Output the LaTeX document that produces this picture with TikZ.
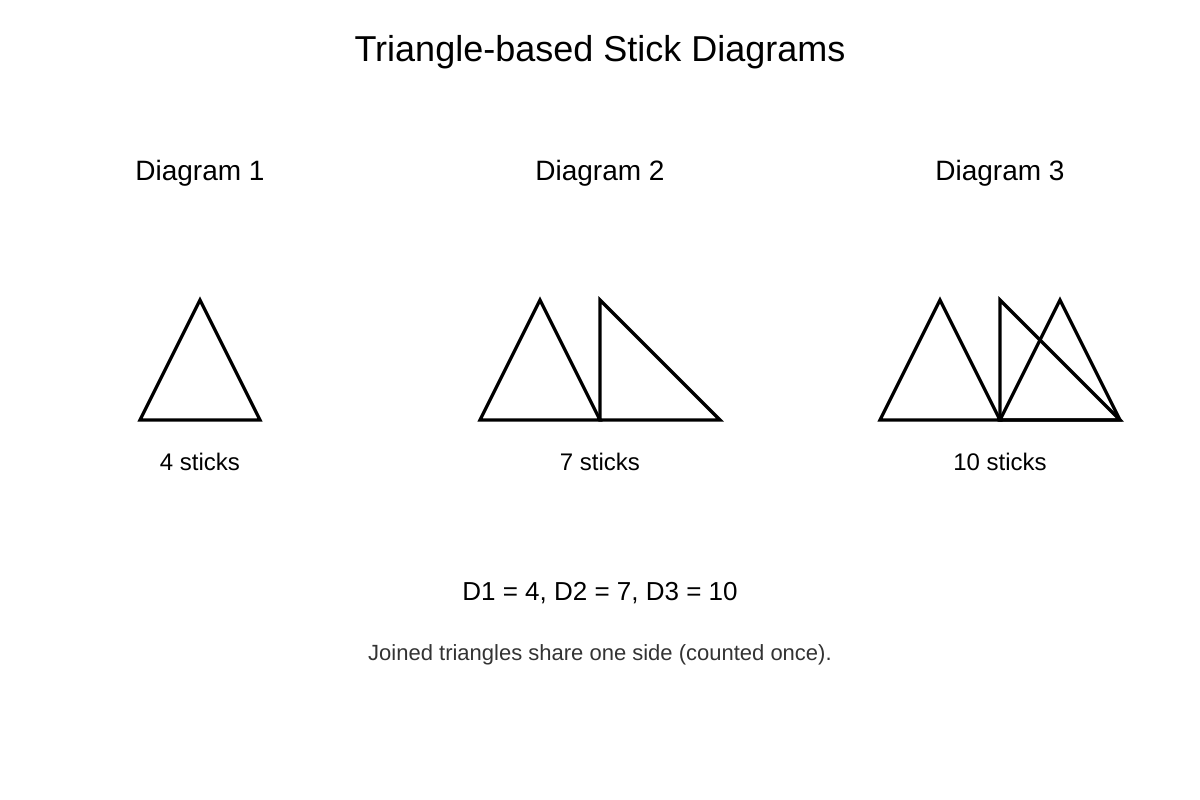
\documentclass[tikz,border=0pt]{standalone}
\usepackage{fontspec}
\setmainfont{Liberation Sans}
\begin{document}
\begin{tikzpicture}[x=0.75pt,y=-0.75pt,
  stick/.style={draw=black,line width=2.4pt,line join=miter},
  txt/.style={anchor=base,inner sep=0pt,text=black}]
\useasboundingbox (0,0) rectangle (1200,800);
\fill[white] (0,0) rectangle (1200,800);
\node[txt,font=\fontsize{27}{32}\selectfont] (title) at (600,61) {Triangle-based Stick Diagrams};
\node[txt,font=\fontsize{21}{25}\selectfont] (h1) at (200,180) {Diagram 1};
\node[txt,font=\fontsize{21}{25}\selectfont] (h2) at (600,180) {Diagram 2};
\node[txt,font=\fontsize{21}{25}\selectfont] (h3) at (1000,180) {Diagram 3};
% Diagram 1
\draw[stick] (140,420) -- (200,300) -- (260,420) -- cycle;
% Diagram 2
\draw[stick] (480,420) -- (540,300) -- (600,420) -- cycle;
\draw[stick] (600,420) -- (600,300) -- (720,420) -- cycle;
% Diagram 3
\draw[stick] (880,420) -- (940,300) -- (1000,420) -- cycle;
\draw[stick] (1000,420) -- (1000,300) -- (1120,420) -- cycle;
\draw[stick] (1000,420) -- (1060,300) -- (1120,420) -- cycle;
\node[txt,font=\fontsize{18}{22}\selectfont] (s1) at (200,470) {4 sticks};
\node[txt,font=\fontsize{18}{22}\selectfont] (s2) at (600,470) {7 sticks};
\node[txt,font=\fontsize{18}{22}\selectfont] (s3) at (1000,470) {10 sticks};
\node[txt,font=\fontsize{19.5}{23}\selectfont] (eq) at (600,600) {D1 = 4, D2 = 7, D3 = 10};
\node[txt,font=\fontsize{16.5}{20}\selectfont,text={rgb,255:red,51;green,51;blue,51}] (note) at (600,660) {Joined triangles share one side (counted once).};
\end{tikzpicture}
\end{document}
